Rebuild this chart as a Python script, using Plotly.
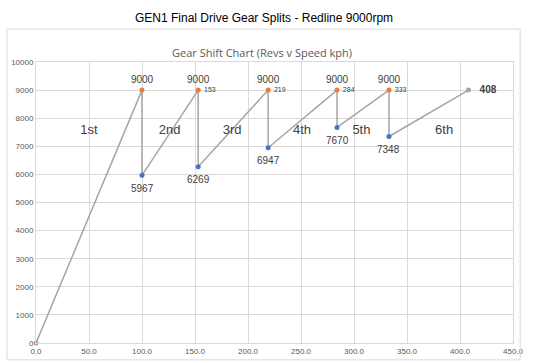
import plotly.graph_objects as go

# Data
path_speed = [0, 100, 100, 153, 153, 219, 219, 284, 284, 333, 333, 408]
path_revs = [0, 9000, 5967, 9000, 6269, 9000, 6947, 9000, 7670, 9000, 7348, 9000]

shift_speed = [100, 153, 219, 284, 333]
shift_revs = [9000, 9000, 9000, 9000, 9000]
shift_speed_labels = ["", "153", "219", "284", "333"]

drop_speed = [100, 153, 219, 284, 333]
drop_revs = [5967, 6269, 6947, 7670, 7348]

end_speed = [0, 408]
end_revs = [0, 9000]

gear_names = ["1st", "2nd", "3rd", "4th", "5th", "6th"]
gear_x = [50, 126, 185, 251, 307, 385]
gear_y = [7550, 7550, 7550, 7550, 7550, 7550]

GRAY = "#A5A5A5"
ORANGE = "#ED7D31"
BLUE = "#4472C4"
TXT = "#404040"

fig = go.Figure()

fig.add_trace(go.Scatter(x=path_speed, y=path_revs, mode="lines",
                         line=dict(color=GRAY, width=1.5), hoverinfo="skip"))
fig.add_trace(go.Scatter(x=end_speed, y=end_revs, mode="markers",
                         marker=dict(color=GRAY, size=5), cliponaxis=False))
fig.add_trace(go.Scatter(x=shift_speed, y=shift_revs, mode="markers+text",
                         marker=dict(color=ORANGE, size=5),
                         text=[str(v) for v in shift_revs], textposition="top center",
                         textfont=dict(family="Liberation Sans", size=10, color=TXT)))
fig.add_trace(go.Scatter(x=shift_speed, y=shift_revs, mode="text",
                         text=["   " + s if s else "" for s in shift_speed_labels],
                         textposition="middle right",
                         textfont=dict(family="Liberation Sans", size=7, color=TXT)))
fig.add_trace(go.Scatter(x=drop_speed, y=drop_revs, mode="markers",
                         marker=dict(color=BLUE, size=5)))
fig.add_trace(go.Scatter(x=[end_speed[-1]], y=[end_revs[-1]], mode="text",
                         text=["    <b>%d</b>" % end_speed[-1]], textposition="middle right",
                         textfont=dict(family="Liberation Sans", size=10, color=TXT)))
fig.add_trace(go.Scatter(x=gear_x, y=gear_y, mode="text", text=gear_names,
                         textfont=dict(family="Liberation Sans", size=13, color=TXT)))

annotations = [
    dict(text="GEN1 Final Drive Gear Splits - Redline 9000rpm", xref="paper", yref="paper",
         x=(264 - 36) / 477, y=(343 - 9) / 281, showarrow=False,
         font=dict(family="Liberation Sans", size=12, color="black")),
    dict(text="Gear Shift Chart (Revs v Speed kph)", xref="paper", yref="paper",
         x=(262 - 36) / 477, y=(343 - 43) / 281, showarrow=False,
         font=dict(family="Open Sans", size=11, color="#595959")),
]
for sx, rv in zip(drop_speed, drop_revs):
    annotations.append(dict(x=sx, y=rv, xref="x", yref="y", text=str(rv), showarrow=False,
                            yshift=-13, font=dict(family="Liberation Sans", size=10, color=TXT)))

fig.update_layout(
    width=533, height=363,
    margin=dict(l=36, r=20, t=62, b=20, autoexpand=False),
    paper_bgcolor="white", plot_bgcolor="white",
    showlegend=False,
    xaxis=dict(range=[0, 450], dtick=50, tickformat=".1f", showgrid=True,
               gridcolor="#D9D9D9", gridwidth=1, zeroline=False,
               showline=True, linecolor="#D9D9D9", mirror=True, automargin=False,
               tickfont=dict(family="Liberation Sans", size=8, color="#595959"),
               ticks="", fixedrange=True),
    yaxis=dict(range=[0, 10000], dtick=1000, tickformat="d", showgrid=True,
               gridcolor="#D9D9D9", gridwidth=1, zeroline=False,
               showline=True, linecolor="#D9D9D9", mirror=True, automargin=False,
               tickfont=dict(family="Liberation Sans", size=8, color="#595959"),
               ticks="", fixedrange=True),
    shapes=[dict(type="rect", xref="paper", yref="paper",
                 x0=-0.061, x1=1.015, y0=-0.06, y1=1.117,
                 line=dict(color="#D9D9D9", width=1), fillcolor="rgba(0,0,0,0)")],
    annotations=annotations,
)

fig.write_html("out.html", config={"displayModeBar": False},
               post_script="document.body.style.margin='0';document.body.style.overflow='hidden';")
